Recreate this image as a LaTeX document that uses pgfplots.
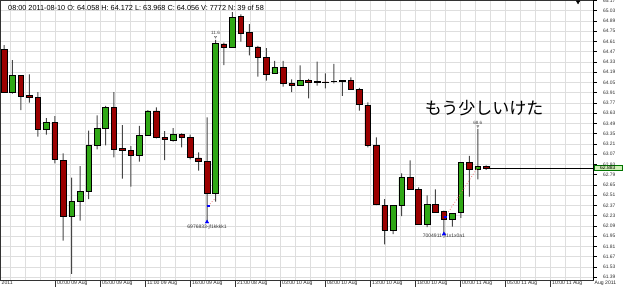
\documentclass[border=0pt]{standalone}
\usepackage{pgfplots}
\pgfplotsset{compat=1.18}
\usepackage{pgfplotstable}
\usepackage{fontspec}
\setmainfont{Liberation Sans}
\newfontfamily\jpfont{Noto Sans CJK JP}
\definecolor{upgreen}{RGB}{48,168,22}
\definecolor{downred}{RGB}{155,0,0}
\definecolor{wick}{RGB}{70,70,70}
\definecolor{gridc}{RGB}{222,222,222}
\definecolor{tagfill}{RGB}{205,240,180}
\definecolor{pinkdot}{RGB}{240,120,120}

\pgfplotstableread{
i O H L C
1 64.503 64.561 63.915 63.915
2 63.915 64.356 63.896 64.147
3 64.147 64.147 63.673 63.865
4 63.874 64.161 63.773 63.847
5 63.847 63.919 63.309 63.410
6 63.410 63.564 63.336 63.505
7 63.505 63.591 62.945 62.999
8 62.990 63.082 61.888 62.216
9 62.216 62.748 61.433 62.426
10 62.426 62.908 62.161 62.563
11 62.563 63.391 62.457 63.191
12 63.191 63.601 63.136 63.427
13 63.427 63.728 63.191 63.710
14 63.710 63.919 63.027 63.136
15 63.145 63.468 62.735 63.123
16 63.117 63.181 62.626 63.049
17 63.049 63.455 62.967 63.328
18 63.328 63.673 63.328 63.660
19 63.660 63.710 63.287 63.300
20 63.304 63.386 62.990 63.268
21 63.259 63.427 63.240 63.345
22 63.341 63.355 63.164 63.304
23 63.304 63.336 63.000 63.022
24 63.018 63.095 62.844 62.967
25 62.967 63.574 62.143 62.535
26 62.535 64.630 62.421 64.584
27 64.575 64.593 64.288 64.524
28 64.524 65.012 64.524 64.940
29 64.948 64.981 64.606 64.721
30 64.735 64.848 64.421 64.538
31 64.534 64.548 64.128 64.388
32 64.388 64.520 64.074 64.165
33 64.169 64.343 64.169 64.257
34 64.251 64.343 63.992 64.033
35 64.038 64.093 63.919 64.011
36 64.005 64.284 64.005 64.079
37 64.079 64.097 63.833 64.052
38 64.063 64.333 64.005 64.057
39 64.058 64.172 63.968 64.056
40 64.065 64.302 64.038 64.063
41 64.065 64.083 63.865 64.083
42 64.079 64.120 63.960 63.960
43 63.960 63.974 63.664 63.746
44 63.738 63.778 63.164 63.186
45 63.191 63.300 62.375 62.380
46 62.375 62.457 61.839 62.030
47 62.030 62.371 61.979 62.371
48 62.371 62.809 62.225 62.748
49 62.748 62.986 62.590 62.590
50 62.590 62.617 62.106 62.106
51 62.106 62.508 62.075 62.380
52 62.385 62.590 62.276 62.276
53 62.284 62.298 61.979 62.180
54 62.180 62.262 62.079 62.262
55 62.270 62.953 62.198 62.953
56 62.953 63.045 62.489 62.863
57 62.863 63.414 62.727 62.899
58 62.899 62.918 62.854 62.883
}\candles

\pgfplotsset{base/.style={scale only axis, width=593pt, height=280pt,
  xmin=0.527, xmax=70.62, ymin=61.351, ymax=65.176,
  at={(0pt,0pt)}, anchor=south west}}

\begin{document}
\begin{tikzpicture}
% grid, x axis, box and wicks
\begin{axis}[base,
  ybar stacked, bar width=1pt,
  axis line style={black!80, line width=0.6pt},
  tick align=outside,
  major tick length=7pt,
  xtick pos=bottom, ytick pos=right,
  xtick={7.111,12.430,...,65.7},
  minor xtick={1.792,3.565,...,70.5},
  minor tick length=0pt,
  xtick style={black!80, line width=0.5pt},
  ytick style={draw=none},
  xticklabels={00:00 09 Aug, 05:00 09 Aug, 11:00 09 Aug, 16:00 09 Aug, 21:00 08 Aug, 03:00 10 Aug, 08:00 10 Aug, 13:00 10 Aug, 18:00 10 Aug, 00:00 11 Aug, 05:00 11 Aug, 10:00 11 Aug},
  xticklabel style={font=\fontsize{5.1}{6}\selectfont, anchor=north west, inner sep=0.5pt, yshift=6.3pt, xshift=0.8pt, text=black!85},
  ytick={61.39,61.53,...,65.2},
  yticklabels={},
  grid=both,
  major grid style={draw=gridc, line width=0.5pt},
  minor grid style={draw=gridc, line width=0.5pt},
]
\addplot[draw=none, fill=none, forget plot] table[x=i, y=L] {\candles};
\addplot[draw=none, fill=wick] table[x=i, y expr=\thisrow{H}-\thisrow{L}] {\candles};
\end{axis}
% right price axis
\begin{axis}[base,
  axis x line=none, axis y line*=right,
  axis line style={black, line width=0.6pt},
  tick align=outside, major tick length=3.5pt,
  ytick={61.39,61.53,...,65.2},
  ytick style={black, line width=0.5pt},
  yticklabel={\pgfmathprintnumber[fixed,fixed zerofill,precision=2]{\tick}},
  yticklabel style={font=\fontsize{4.9}{6}\selectfont, anchor=west, xshift=3pt, text=black!80},
  /pgf/number format/assume math mode=true,
]
\addplot[draw=none, forget plot] coordinates {(1,62)};
\end{axis}
% candle bodies
\begin{axis}[base, hide axis, ybar stacked, bar width=5.6pt]
\addplot[draw=none, fill=none, forget plot] table[x=i, y expr={min(\thisrow{O},\thisrow{C})}] {\candles};
\addplot[fill=upgreen, draw=black, line width=0.6pt] table[x=i, y expr={max(\thisrow{C}-\thisrow{O},0)}] {\candles};
\addplot[fill=downred, draw=black, line width=0.6pt] table[x=i, y expr={max(\thisrow{O}-\thisrow{C},0)}] {\candles};
\end{axis}
% overlays
\begin{axis}[base, hide axis, clip=false]
\addplot[black, line width=0.6pt] coordinates {(58,62.883) (70.62,62.883)};
\addplot[pinkdot, dotted, line width=0.8pt] coordinates {(25.12,62.362) (26,62.47)};
\addplot[pinkdot, dotted, line width=0.8pt] coordinates {(53.17,62.216) (57,62.891)};
\addplot[only marks, mark=square*, mark size=0.7pt, blue] coordinates {(25.12,62.362) (53.17,62.216)};
\addplot[only marks, mark=triangle*, mark size=2pt, blue] coordinates {(25,62.143) (53,61.979)};
\addplot[only marks, mark=triangle, mark size=1.3pt, black!60, mark options={rotate=180}] coordinates {(26,64.672) (57,63.452)};
\addplot[only marks, mark=triangle*, mark size=2pt, black, mark options={rotate=180}] coordinates {(68.85,65.15)};
\node[font=\fontsize{4.6}{5}\selectfont, text=black!75] at (axis cs:26,64.722) {11.6};
\node[font=\fontsize{4.6}{5}\selectfont, text=black!75] at (axis cs:57,63.502) {68.6};
\node[font=\fontsize{5}{6}\selectfont, text=black!80] at (axis cs:25,62.079) {6976833-jf1kkkk1};
\node[font=\fontsize{5}{6}\selectfont, text=black!80] at (axis cs:53,61.952) {7004911-jf1x1x0a1};
\node[font={\fontsize{17}{20}\jpfont}] at (axis cs:57.76,63.703) {もう少しいけた};
\node[anchor=west, font=\fontsize{7.3}{8}\selectfont, inner sep=0pt] at (rel axis cs:0.0135,0.972) {08:00 2011-08-10 O: 64.058 H: 64.172 L: 63.968 C: 64.056 V: 7772 N: 39 of 58};
\node[anchor=west, xshift=0.6pt, fill=tagfill, draw=green!45!black, line width=0.4pt, inner sep=0.6pt, minimum width=28pt, font=\fontsize{5}{6}\selectfont] at (axis cs:70.62,62.883) {62.883};
\node[anchor=north west, inner sep=0.5pt, yshift=-0.6pt, xshift=1pt, font=\fontsize{5.1}{6}\selectfont, text=black!85] at (rel axis cs:0,0) {2011};
\node[anchor=north west, inner sep=0.5pt, yshift=-0.6pt, xshift=1pt, font=\fontsize{5.1}{6}\selectfont, text=black!85] at (rel axis cs:1,0) {Aug 2011};
\end{axis}
\pgfresetboundingbox
\useasboundingbox (0pt,-7pt) rectangle (625pt,280pt);
\end{tikzpicture}
\end{document}
